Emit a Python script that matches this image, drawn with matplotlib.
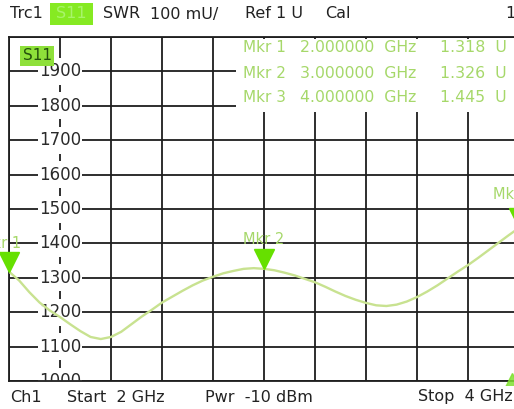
import matplotlib
matplotlib.use("Agg")
import matplotlib.pyplot as plt
from matplotlib.patches import Rectangle
import matplotlib.transforms as mtransforms

# ---------------- data ----------------
freq_ghz = [2.00, 2.04, 2.08, 2.12, 2.16, 2.20, 2.24, 2.28, 2.32, 2.36, 2.40,
            2.44, 2.48, 2.52, 2.56, 2.60, 2.64, 2.68, 2.72, 2.76, 2.80, 2.84,
            2.88, 2.92, 2.96, 3.00, 3.04, 3.08, 3.12, 3.16, 3.20, 3.24, 3.28,
            3.32, 3.36, 3.40, 3.44, 3.48, 3.52, 3.56, 3.60, 3.64, 3.68, 3.72,
            3.76, 3.80, 3.84, 3.88, 3.92, 3.96, 4.00]
swr_mu = [1318, 1292, 1258, 1228, 1205, 1186, 1165, 1145, 1128, 1122, 1128,
          1143, 1165, 1187, 1207, 1228, 1245, 1262, 1278, 1292, 1303, 1313,
          1320, 1326, 1328, 1326, 1322, 1315, 1307, 1297, 1287, 1274, 1260,
          1247, 1236, 1227, 1220, 1218, 1222, 1231, 1244, 1260, 1278, 1298,
          1318, 1337, 1358, 1380, 1402, 1424, 1445]

marker_names = ["Mkr 1", "Mkr 2", "Mkr 3"]
marker_freq = [2.0, 3.0, 4.0]
marker_val = [1318, 1326, 1445]
marker_freq_txt = ["2.000000  GHz", "3.000000  GHz", "4.000000  GHz"]
marker_val_txt = ["1.318  U", "1.326  U", "1.445  U"]

y_ticks = [1000, 1100, 1200, 1300, 1400, 1500, 1600, 1700, 1800, 1900]
x_grid = [2.0, 2.2, 2.4, 2.6, 2.8, 3.0, 3.2, 3.4, 3.6, 3.8, 4.0]

header_items = [("Trc1", 10), ("SWR", 103), ("100 mU/", 150), ("Ref 1 U", 245),
                ("Cal", 325), ("1", 505)]
footer_items = [("Ch1", 10), ("Start  2 GHz", 67), ("Pwr  -10 dBm", 205),
                ("Stop  4 GHz", 418)]

# ---------------- figure ----------------
W, H = 514, 409
fig = plt.figure(figsize=(W / 100, H / 100), dpi=100)
fig.patch.set_facecolor("white")

def fx(px):
    return px / W

def fy(py):
    return 1 - py / H

left_px, right_px, top_px, bot_px = 9, 519, 37, 381
ax = fig.add_axes([fx(left_px), fy(bot_px), (right_px - left_px) / W,
                   (bot_px - top_px) / H])
ax.set_xlim(2.0, 4.0)
ax.set_ylim(1000, 2000)
ax.set_xticks(x_grid)
ax.set_yticks(y_ticks + [2000])
ax.tick_params(length=0, labelbottom=False, labelleft=False)
ax.grid(True, color="#1e1e1e", linewidth=1.3)
for s in ax.spines.values():
    s.set_color("#1e1e1e")
    s.set_linewidth(1.3)
ax.set_facecolor("white")

# Y labels sitting on the second vertical grid line, with white backgrounds
blend = mtransforms.blended_transform_factory(ax.transAxes, ax.transData)
lab_xfrac = (60 - left_px) / (right_px - left_px)
box_w = 44 / (right_px - left_px)
box_h = 27 / (bot_px - top_px) * 1000
for v in y_ticks:
    ax.add_patch(Rectangle((lab_xfrac - box_w / 2, v - box_h / 2), box_w, box_h,
                           transform=blend, facecolor="white", edgecolor="none",
                           zorder=2.5))
    ax.text(lab_xfrac, v, str(v), transform=blend, ha="center", va="center",
            fontsize=12, color="#2a2a2a", zorder=3, clip_on=True,
            family="DejaVu Sans")

# marker table white box
ax.add_patch(Rectangle(((236 - left_px) / 510, (bot_px - 112) / 344),
                       (520 - 236) / 510, (112 - 39) / 344,
                       transform=ax.transAxes, facecolor="white",
                       edgecolor="none", zorder=2.5))

# trace
ax.plot(freq_ghz, swr_mu, color="#c8e290", linewidth=1.7, zorder=4,
        solid_capstyle="round")

# markers (triangle tip on trace)
off = mtransforms.offset_copy(ax.transData, fig=fig, x=0, y=7, units="points")
for f, v in zip(marker_freq, marker_val):
    ax.plot([f], [v], marker="v", markersize=14, color="#66e000",
            markeredgecolor="#66e000", transform=off, zorder=5, clip_on=False)

lbl_color = "#a6d86a"
off_lbl = mtransforms.offset_copy(ax.transData, fig=fig, x=0, y=21, units="points")
ax.text(marker_freq[1], marker_val[1], marker_names[1], transform=off_lbl,
        ha="center", va="center", fontsize=10.5, color=lbl_color, zorder=5)
off_lbl3 = mtransforms.offset_copy(ax.transData, fig=fig, x=-4, y=24, units="points")
ax.text(marker_freq[2], marker_val[2], marker_names[2], transform=off_lbl3,
        ha="center", va="center", fontsize=10.5, color=lbl_color, zorder=5,
        clip_on=False)
off_lbl1 = mtransforms.offset_copy(ax.transData, fig=fig, x=9, y=20, units="points")
ax.text(marker_freq[0], marker_val[0], marker_names[0], transform=off_lbl1,
        ha="right", va="center", fontsize=10.5, color=lbl_color, zorder=5,
        clip_on=False)

# green blob at bottom right
ax.plot([(512 - left_px) / 510], [0.0], marker="^", markersize=11,
        color="#7fe030", alpha=0.85, transform=ax.transAxes, clip_on=False,
        zorder=5)

# marker table text
row_y = [48, 73, 98]
for name, ft, vt, ry in zip(marker_names, marker_freq_txt, marker_val_txt, row_y):
    fig.text(fx(243), fy(ry), name, ha="left", va="center", fontsize=11,
             color=lbl_color)
    fig.text(fx(300), fy(ry), ft, ha="left", va="center", fontsize=11.3,
             color=lbl_color)
    fig.text(fx(440), fy(ry), vt, ha="left", va="center", fontsize=11.3,
             color=lbl_color)

# S11 label inside the diagram
fig.patches.append(Rectangle((fx(20), fy(66)), 34 / W, 20 / H,
                             transform=fig.transFigure, facecolor="#8ee03a",
                             edgecolor="none", zorder=6))
fig.text(fx(37), fy(56), "S11", ha="center", va="center", fontsize=11,
         color="#24500c", zorder=7)

# header
for t, x in header_items:
    fig.text(fx(x), fy(14), t, ha="left", va="center", fontsize=11.5,
             color="#222222")
fig.patches.append(Rectangle((fx(50), fy(25)), 43 / W, 22 / H,
                             transform=fig.transFigure, facecolor="#86ea22",
                             edgecolor="none", zorder=6))
fig.text(fx(71.5), fy(14), "S11", ha="center", va="center", fontsize=11.5,
         color="#a8f56a", zorder=7)

# footer band (covers lower part of the bottom scale label)
fig.patches.append(Rectangle((0, 0), 1, (H - 386) / H,
                             transform=fig.transFigure, facecolor="white",
                             edgecolor="none", zorder=6))
for t, x in footer_items:
    fig.text(fx(x), fy(397), t, ha="left", va="center", fontsize=11.5,
             color="#222222", zorder=8)

fig.savefig("out.png", dpi=100, facecolor="white")
